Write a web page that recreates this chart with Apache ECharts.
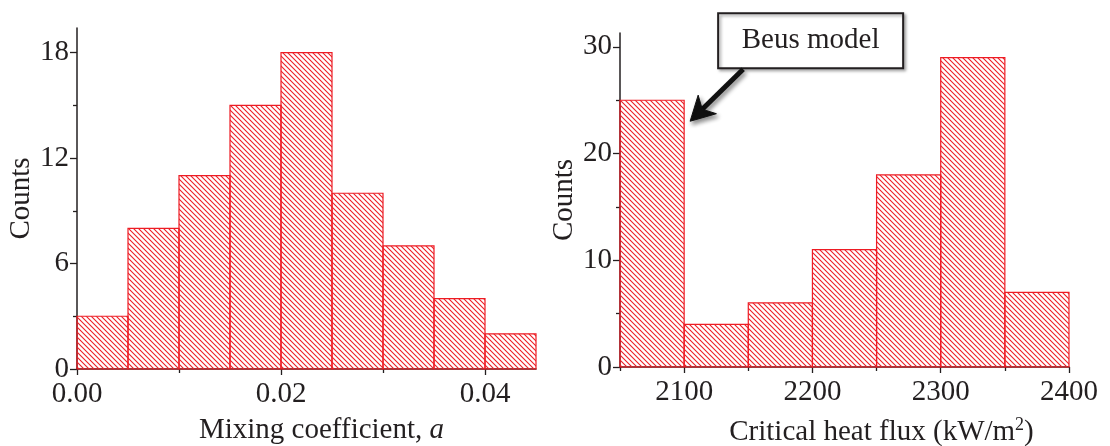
<!DOCTYPE html>
<html>
<head>
<meta charset="utf-8">
<script src="https://cdn.jsdelivr.net/npm/echarts@6/dist/echarts.min.js"></script>
<style>
  html, body { margin: 0; padding: 0; background: #ffffff; }
  #chart { width: 1110px; height: 446px; }
</style>
</head>
<body>
<div id="chart"></div>
<script>
// Histogram of the mixing coefficient (left panel)
const mixEdges = [0, 0.005, 0.010, 0.015, 0.020, 0.025, 0.030, 0.035, 0.040, 0.045];
const mixCounts = [3, 8, 11, 15, 18, 10, 7, 4, 2];
const mixMajorTicks = [0, 0.02, 0.04];
const mixMinorTicks = [0.01, 0.03];
const mixCountMajor = [0, 6, 12, 18];
const mixCountMinor = [3, 9, 15];

// Histogram of the critical heat flux (right panel)
const chfEdges = [2050, 2100, 2150, 2200, 2250, 2300, 2350, 2400];
const chfCounts = [25, 4, 6, 11, 18, 29, 7];
const chfMajorTicks = [2100, 2200, 2300, 2400];
const chfMinorTicks = [2050, 2150, 2250, 2350];
const chfCountMajor = [0, 10, 20, 30];
const chfCountMinor = [5, 15, 25];

// Bar of the CHF histogram that the callout points to
const calloutBin = 0;
const calloutText = 'Beus model';

const INK = '#231f20';
const RED = '#ed1c24';
const FONT = "'Liberation Serif', 'DejaVu Serif', serif";
const FS = 29;

// Diagonal "\\" hatch tile
function makeHatch() {
  const s = 5;
  const c = document.createElement('canvas');
  c.width = s; c.height = s;
  const g = c.getContext('2d');
  g.strokeStyle = RED;
  g.lineWidth = 1.1;
  for (const k of [-s, 0, s]) {
    g.beginPath();
    g.moveTo(-1, -1 + k);
    g.lineTo(s + 1, s + 1 + k);
    g.stroke();
  }
  return { image: c, repeat: 'repeat' };
}
const hatch = makeHatch();

function binData(edges, counts) {
  return counts.map((c, i) => [edges[i], edges[i + 1], c]);
}

function renderBin(params, api) {
  const top = api.coord([api.value(0), api.value(2)]);
  const base = api.coord([api.value(1), 0]);
  return {
    type: 'rect',
    shape: { x: top[0], y: top[1], width: base[0] - top[0], height: base[1] - top[1] },
    style: { fill: hatch, stroke: RED, lineWidth: 1.2 }
  };
}

const labelStyle = { color: INK, fontFamily: FONT, fontSize: FS };

function majorAxis(extra) {
  return Object.assign({
    type: 'value',
    axisLine: { show: true, onZero: false, lineStyle: { color: INK, width: 1.5 } },
    splitLine: { show: false },
    nameTextStyle: { color: INK, fontFamily: FONT, fontSize: FS }
  }, extra);
}

function minorAxis(extra, len, values) {
  return Object.assign({
    type: 'value',
    axisLine: { show: false },
    splitLine: { show: false },
    axisLabel: { show: false },
    axisTick: { show: true, length: len, customValues: values, lineStyle: { color: INK, width: 1.3 } }
  }, extra);
}

const chart = echarts.init(document.getElementById('chart'), null, { renderer: 'canvas' });

const option = {
  animation: false,
  backgroundColor: '#ffffff',
  textStyle: { fontFamily: FONT },
  grid: [
    { left: 77, right: 574, top: 28, bottom: 77, outerBoundsMode: 'none', containLabel: false },
    { left: 620, right: 41, top: 33, bottom: 79, outerBoundsMode: 'none', containLabel: false }
  ],
  xAxis: [
    majorAxis({
      gridIndex: 0, position: 'bottom', min: 0, max: 0.045,
      axisTick: { show: true, length: 6, customValues: mixMajorTicks, lineStyle: { color: INK, width: 1.3 } },
      axisLabel: Object.assign({ customValues: mixMajorTicks, margin: 11, formatter: v => v.toFixed(2) }, labelStyle),
      name: '{t|Mixing coefficient, }{i|a}',
      nameLocation: 'middle', nameGap: 47,
      nameTextStyle: {
        padding: [0, 0, 0, 30],
        rich: {
          t: { color: INK, fontFamily: FONT, fontSize: FS },
          i: { color: INK, fontFamily: FONT, fontSize: FS, fontStyle: 'italic' }
        }
      }
    }),
    minorAxis({ gridIndex: 0, position: 'bottom', min: 0, max: 0.045 }, 4, mixMinorTicks),
    majorAxis({
      gridIndex: 1, position: 'bottom', min: 2050, max: 2400,
      axisTick: { show: true, length: 6, customValues: chfMajorTicks, lineStyle: { color: INK, width: 1.3 } },
      axisLabel: Object.assign({ customValues: chfMajorTicks, margin: 11, formatter: v => String(v) }, labelStyle),
      name: '{t|Critical heat flux (kW/m}{s|2}{t|)}',
      nameLocation: 'middle', nameGap: 49,
      nameTextStyle: {
        padding: [0, 0, 0, 74],
        rich: {
          t: { color: INK, fontFamily: FONT, fontSize: FS },
          s: { color: INK, fontFamily: FONT, fontSize: 18, padding: [0, 0, 15, 0] }
        }
      }
    }),
    minorAxis({ gridIndex: 1, position: 'bottom', min: 2050, max: 2400 }, 4, chfMinorTicks)
  ],
  yAxis: [
    majorAxis({
      gridIndex: 0, position: 'left', min: 0, max: 19.4,
      axisTick: { show: true, length: 7, customValues: mixCountMajor, lineStyle: { color: INK, width: 1.3 } },
      axisLabel: Object.assign({ customValues: mixCountMajor, margin: 8, padding: [6, 0, 0, 0] }, labelStyle),
      name: 'Counts', nameLocation: 'middle', nameGap: 38, nameRotate: 90
    }),
    minorAxis({ gridIndex: 0, position: 'left', min: 0, max: 19.4 }, 4, mixCountMinor),
    majorAxis({
      gridIndex: 1, position: 'left', min: 0, max: 31.3,
      axisTick: { show: true, length: 7, customValues: chfCountMajor, lineStyle: { color: INK, width: 1.3 } },
      axisLabel: Object.assign({ customValues: chfCountMajor, margin: 8, padding: [7, 0, 0, 0] }, labelStyle),
      name: 'Counts', nameLocation: 'middle', nameGap: 38, nameRotate: 90
    }),
    minorAxis({ gridIndex: 1, position: 'left', min: 0, max: 31.3 }, 4, chfCountMinor)
  ],
  series: [
    {
      type: 'custom', xAxisIndex: 0, yAxisIndex: 0,
      encode: { x: [0, 1], y: 2 },
      renderItem: renderBin,
      data: binData(mixEdges, mixCounts), z: 1
    },
    {
      type: 'custom', xAxisIndex: 2, yAxisIndex: 2,
      encode: { x: [0, 1], y: 2 },
      renderItem: renderBin,
      data: binData(chfEdges, chfCounts), z: 1
    }
  ]
};

chart.setOption(option);

// Callout box with an arrow pointing at the top-right corner of the first CHF bin
const anchor = chart.convertToPixel({ xAxisIndex: 2, yAxisIndex: 2 },
  [chfEdges[calloutBin + 1], chfCounts[calloutBin]]);
const ax = anchor[0], ay = anchor[1];
const tip = [ax + 6, ay + 21];
const tail = [ax + 59, ay - 31];
const dx = tip[0] - tail[0], dy = tip[1] - tail[1];
const L = Math.hypot(dx, dy);
const ux = dx / L, uy = dy / L;     // along the arrow
const px = -uy, py = ux;            // perpendicular
const headLen = 24, headHalf = 13, notch = 7;
const base = [tip[0] - ux * headLen, tip[1] - uy * headLen];
const wingA = [base[0] + px * headHalf, base[1] + py * headHalf];
const wingB = [base[0] - px * headHalf, base[1] - py * headHalf];
const notchPt = [tip[0] - ux * (headLen - notch), tip[1] - uy * (headLen - notch)];
const shadow = { shadowBlur: 4, shadowColor: 'rgba(0,0,0,0.45)', shadowOffsetX: 2, shadowOffsetY: 3 };

chart.setOption({
  graphic: [
    {
      type: 'rect', z: 10,
      shape: { x: ax + 34, y: ay - 87, width: 185, height: 55 },
      style: Object.assign({ fill: '#ffffff', stroke: INK, lineWidth: 2 }, { shadowBlur: 3, shadowColor: 'rgba(0,0,0,0.35)', shadowOffsetX: 2, shadowOffsetY: 2 })
    },
    {
      type: 'text', z: 11,
      x: ax + 34 + 92.5, y: ay - 87 + 27.5,
      style: { text: calloutText, fill: INK, font: FS + 'px ' + FONT, align: 'center', verticalAlign: 'middle' }
    },
    {
      type: 'line', z: 10,
      shape: { x1: tail[0], y1: tail[1], x2: notchPt[0], y2: notchPt[1] },
      style: Object.assign({ stroke: '#111111', lineWidth: 5 }, shadow)
    },
    {
      type: 'polygon', z: 10,
      shape: { points: [tip, wingA, notchPt, wingB] },
      style: Object.assign({ fill: '#111111', stroke: '#111111', lineWidth: 1, lineJoin: 'miter' }, shadow)
    }
  ]
});
</script>
</body>
</html>
